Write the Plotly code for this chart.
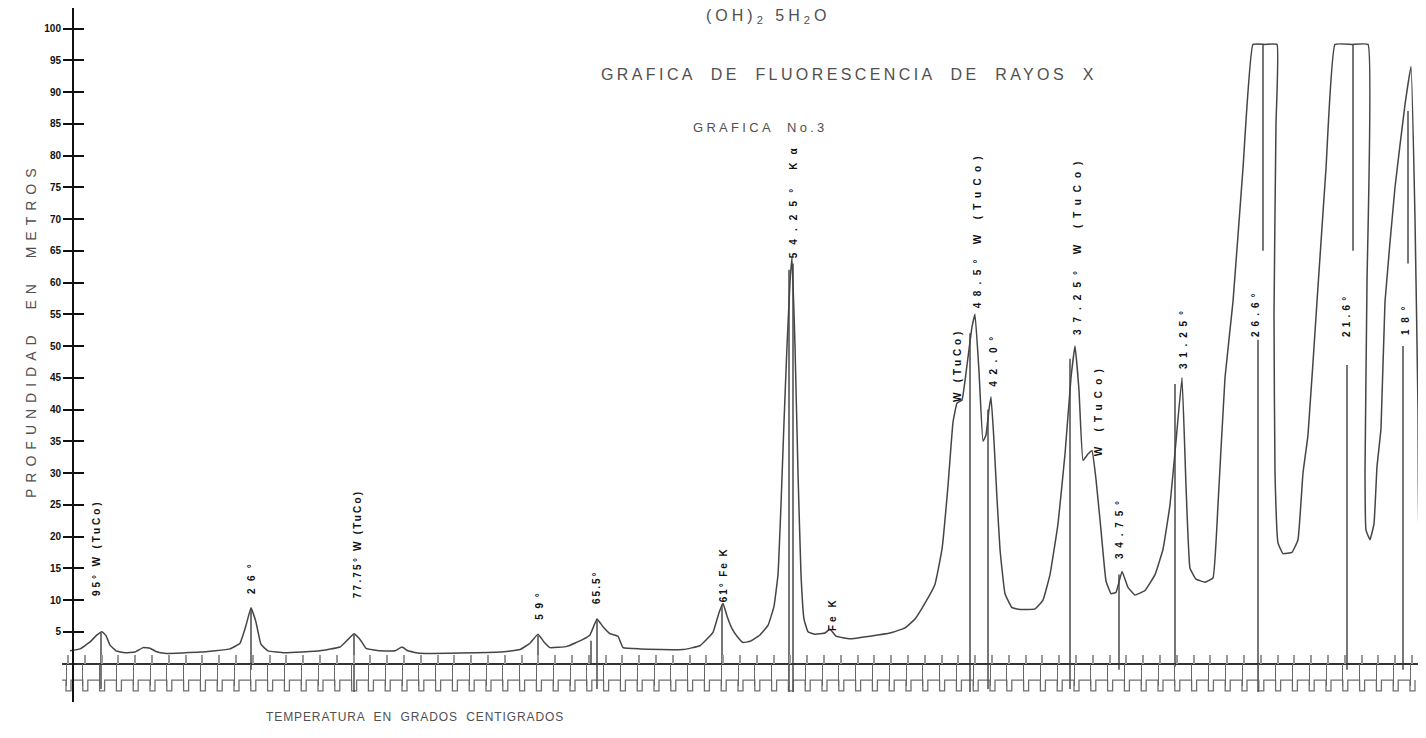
import plotly.graph_objects as go

# ---------------- data ----------------
# x: position along the chart strip (chart units), y: PROFUNDIDAD scale value
curve_x = [70, 80, 90, 97, 102, 106, 110, 116, 125, 135, 143, 150, 156, 165, 200, 230, 240, 246, 251, 256,
           261, 268, 285, 320, 340, 348, 354, 360, 366, 380, 395, 402, 408, 420, 500, 520, 530, 538, 544, 550,
           567, 583, 590, 597, 603, 610, 618, 623, 640, 683, 700, 713, 719, 723, 727, 732, 737, 743, 750, 760,
           768, 774, 778, 781, 784, 787, 790, 792, 795, 798, 801, 804, 808, 815, 825, 830, 836, 850, 870, 890,
           905, 915, 925, 935, 942, 948, 953, 957, 962, 967, 972, 975, 979, 983, 986, 989, 991, 994, 997, 1000,
           1005, 1012, 1020, 1035, 1043, 1050, 1058, 1065, 1071, 1075, 1079, 1083, 1088, 1092, 1096, 1101, 1106, 1111, 1116, 1122,
           1128, 1135, 1145, 1155, 1163, 1170, 1176, 1182, 1186, 1190, 1196, 1205, 1213, 1218, 1225, 1233, 1243, 1253, 1265, 1277,
           1276, 1274, 1275, 1278, 1283, 1292, 1298, 1303, 1308, 1317, 1326, 1335, 1352, 1368, 1367, 1365, 1366, 1370, 1374, 1377,
           1381, 1385, 1395, 1405, 1411, 1415, 1418, 1419, 1423, 1426]
curve_y = [2.0, 2.3, 3.4, 4.5, 5.0, 4.4, 2.9, 2.0, 1.7, 1.8, 2.5, 2.4, 1.9, 1.6, 1.8, 2.3, 3.2, 6.0, 8.8, 6.5,
           3.0, 2.0, 1.7, 2.0, 2.6, 3.8, 4.7, 3.8, 2.4, 2.0, 2.0, 2.6, 2.0, 1.6, 1.8, 2.2, 3.2, 4.6, 3.4, 2.5,
           2.7, 3.8, 4.5, 7.0, 5.8, 4.7, 4.3, 2.5, 2.3, 2.2, 2.8, 4.9, 8.0, 9.5, 7.5, 5.5, 4.3, 3.3, 3.5, 4.5,
           6.0, 9, 14, 25, 38, 50, 60, 64, 50, 30, 14, 7, 5, 4.6, 4.8, 5.4, 4.3, 3.9, 4.3, 4.8,
           5.6, 7.0, 9.5, 12.5, 18, 28, 38, 41, 41.5, 47, 53, 55, 46, 35, 36, 40, 42, 35, 26, 18,
           11, 8.8, 8.5, 8.6, 10, 14, 22, 33, 45, 50, 43, 32, 33, 33.5, 29, 21, 13, 11, 11.2, 14.5,
           12, 10.8, 11.5, 14, 18, 25, 35, 45, 28, 15, 13.3, 12.8, 13.5, 25, 45, 57, 78, 97.5, 97.5, 97.5,
           85, 55, 30, 19, 17.3, 17.5, 19.5, 30, 36, 57, 78, 97.5, 97.5, 97.5, 60, 30, 21, 19.5, 22, 31,
           37, 57, 75, 88, 94, 70, 40, 21, 18, 16.5]

# vertical pen marks at the peaks: position, lower end, upper end
mark_x = [101, 251, 354, 538, 591, 597, 722, 789, 793, 970, 988, 1070, 1119, 1175, 1258, 1263, 1347, 1353, 1403, 1408]
mark_lo = [-4, -1, -4.5, 0, 0, -4, 0, -4.5, -4.5, -4.5, -4, -4, -1, -0.5, -4.5, 65, -1, 65, -1, 63]
mark_hi = [4.8, 8.5, 4.5, 4.4, 3.6, 6.8, 9.3, 62, 63, 52, 40, 48, 14, 44, 51, 97.5, 47, 97.5, 50, 87]

# peak labels
label_text = ["95° W (TuCo)", "26°", "77.75° W (TuCo)", "59°", "65.5°", "61° Fe K", "54.25° Kα", "Fe K",
              "W (TuCo)", "48.5° W (TuCo)", "42.0°", "37.25° W (TuCo)", "W (TuCo)", "34.75°", "31.25°",
              "26.6°", "21.6°", "18°"]
label_x = [97, 252, 357, 540, 597, 723, 793, 833, 957, 977, 994, 1077, 1098, 1120, 1183, 1256, 1347, 1405]
label_y = [18.2, 13.8, 18.8, 9.4, 11.9, 13.9, 73.1, 7.8, 47.0, 68.4, 48.0, 65.9, 39.9, 21.5, 51.4, 55.2, 54.9, 54.4]
label_len = [95, 37, 108, 32, 35, 55, 118, 32, 70, 158, 58, 180, 90, 65, 65, 50, 46, 35]  # drawn length

y_tick_vals = [5, 10, 15, 20, 25, 30, 35, 40, 45, 50, 55, 60, 65, 70, 75, 80, 85, 90, 95, 100]
y_tick_text = [str(v) for v in y_tick_vals]

# chart-strip timing marks (regular chart division)
MARK_START = 66
MARK_STEP = 16.8

# ---------------- layout geometry ----------------
OFF = 8                      # page body margin
W, H = 1426 - 2 * OFF, 738 - 2 * OFF
X_MIN, X_MAX = 62, OFF + W
Y_TOP_PX, Y_BOT_PX = 8, 702  # axis extent in the page
Y_DOM = [(H - (Y_BOT_PX - OFF)) / H, (H - (Y_TOP_PX - OFF)) / H]
Y_RANGE = [-6.06, 103.23]
zero_paper = Y_DOM[0] + (0 - Y_RANGE[0]) / (Y_RANGE[1] - Y_RANGE[0]) * (Y_DOM[1] - Y_DOM[0])
Y_AXIS_POS = (73 - OFF) / W


def px(x):
    return (x - OFF) / W


def py(y):
    return 1 - (y - OFF) / H


fig = go.Figure()

# timing square wave under the baseline
sq_x, sq_y = [], []
t = MARK_START
while t < X_MAX:
    sq_x += [t, t, t + 5, t + 5]
    sq_y += [-2.6, -4.3, -4.3, -2.6]
    t += MARK_STEP
fig.add_trace(go.Scatter(x=[X_MIN] + sq_x, y=[-2.6] + sq_y, mode="lines",
                         line=dict(color="#707070", width=1.3), hoverinfo="skip", showlegend=False))

# pen marks
mx, my = [], []
for x, lo, hi in zip(mark_x, mark_lo, mark_hi):
    mx += [x, x, None]
    my += [lo, hi, None]
fig.add_trace(go.Scatter(x=mx, y=my, mode="lines", line=dict(color="#555555", width=1.6),
                         hoverinfo="skip", showlegend=False))

# main recorded curve
fig.add_trace(go.Scatter(x=curve_x, y=curve_y, mode="lines",
                         line=dict(color="#454545", width=1.5, shape="spline", smoothing=0.3),
                         showlegend=False))

LBL_FS = 10
for txt, x, y, ln in zip(label_text, label_x, label_y, label_len):
    natural = 0.5 * LBL_FS * len(txt)
    sp = max(0.5, (ln - natural) / len(txt))
    fig.add_annotation(x=x, y=y, xref="x", yref="y", showarrow=False, textangle=-90,
                       text='<span style="letter-spacing:%.1fpx">%s</span>' % (sp, txt),
                       font=dict(family="Liberation Sans", size=LBL_FS, color="#111111", weight="bold"),
                       xanchor="center", yanchor="middle")

title_font = dict(family="Liberation Sans", color="#505050")
fig.add_annotation(x=px(768), y=py(17), xref="paper", yref="paper", showarrow=False,
                   text='<span style="letter-spacing:4px">(OH)<sub>2</sub> 5H<sub>2</sub>O</span>',
                   font=dict(size=16, **title_font), xanchor="center", yanchor="middle")
fig.add_annotation(x=px(849), y=py(74), xref="paper", yref="paper", showarrow=False,
                   text='<span style="letter-spacing:3.4px">GRAFICA  DE  FLUORESCENCIA  DE  RAYOS  X</span>',
                   font=dict(size=16, **title_font), xanchor="center", yanchor="middle")
fig.add_annotation(x=px(760), y=py(128), xref="paper", yref="paper", showarrow=False,
                   text='<span style="letter-spacing:3.3px">GRAFICA  No.3</span>',
                   font=dict(size=13, **title_font), xanchor="center", yanchor="middle")
fig.add_annotation(x=px(415), y=py(717), xref="paper", yref="paper", showarrow=False,
                   text='<span style="letter-spacing:0.9px">TEMPERATURA  EN  GRADOS  CENTIGRADOS</span>',
                   font=dict(size=12, **title_font), xanchor="center", yanchor="middle")
fig.add_annotation(x=px(31), y=py(330), xref="paper", yref="paper", showarrow=False, textangle=-90,
                   text='<span style="letter-spacing:6px">PROFUNDIDAD  EN  METROS</span>',
                   font=dict(size=14, **title_font), xanchor="center", yanchor="middle")

fig.update_layout(
    width=W, height=H, margin=dict(l=0, r=0, t=0, b=0),
    paper_bgcolor="white", plot_bgcolor="white",
    xaxis=dict(domain=[px(X_MIN), 1], range=[X_MIN, X_MAX], anchor="free", position=zero_paper,
               showgrid=False, zeroline=False, showline=True, linecolor="#333333", linewidth=1.5,
               ticks="outside", ticklen=22, tickwidth=1.2, tickcolor="#666666",
               tick0=MARK_START, dtick=MARK_STEP, showticklabels=False),
    xaxis2=dict(domain=[px(X_MIN), 1], range=[X_MIN, X_MAX], overlaying="x", anchor="free",
                position=zero_paper, showgrid=False, zeroline=False, showline=False,
                ticks="inside", ticklen=9, tickwidth=2, tickcolor="#999999",
                tick0=MARK_START + 2, dtick=MARK_STEP, showticklabels=False),
    yaxis=dict(domain=Y_DOM, range=Y_RANGE, anchor="free", position=Y_AXIS_POS,
               showgrid=False, zeroline=False, showline=True, linecolor="#111111", linewidth=2,
               ticks="outside", ticklen=9, tickwidth=2, tickcolor="#111111",
               tickvals=y_tick_vals, ticktext=y_tick_text,
               tickfont=dict(family="Liberation Sans", size=10, color="#111111", weight="bold")),
    yaxis2=dict(domain=Y_DOM, range=Y_RANGE, overlaying="y", anchor="free", position=Y_AXIS_POS,
                side="right", showgrid=False, zeroline=False, showline=False,
                ticks="outside", ticklen=10, tickwidth=2, tickcolor="#111111",
                tickvals=y_tick_vals, showticklabels=False),
)
# invisible trace to activate the overlay axes
fig.add_trace(go.Scatter(x=[X_MIN], y=[0], xaxis="x2", yaxis="y2", mode="markers",
                         marker=dict(opacity=0), hoverinfo="skip", showlegend=False))

fig.write_html("out.html")
